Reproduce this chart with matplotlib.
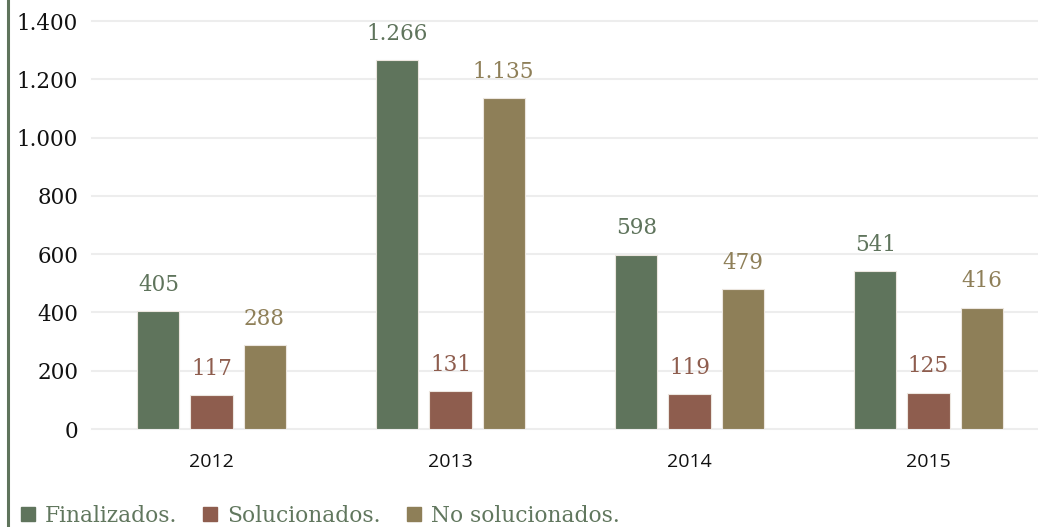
import matplotlib
matplotlib.use("Agg")
import matplotlib.pyplot as plt
from matplotlib.lines import Line2D
import numpy as np

years = ["2012", "2013", "2014", "2015"]
series_names = ["Finalizados.", "Solucionados.", "No solucionados."]
finalizados = [405, 1266, 598, 541]
solucionados = [117, 131, 119, 125]
no_solucionados = [288, 1135, 479, 416]
y_ticks = [0, 200, 400, 600, 800, 1000, 1200, 1400]
y_tick_labels = ["0", "200", "400", "600", "800", "1.000", "1.200", "1.400"]

colors = ["#5f745c", "#8e5d4e", "#8e7f58"]
serif = ["DejaVu Serif"]
sans = ["Open Sans", "DejaVu Sans"]

W, H = 1038, 527
fig = plt.figure(figsize=(W / 100, H / 100), dpi=100)
ax = fig.add_axes([92 / W, 98 / H, 956 / W, 408 / H])

x = np.arange(len(years))
bw = 0.176
step = 0.222
all_series = [finalizados, solucionados, no_solucionados]
for i, (vals, c, name) in enumerate(zip(all_series, colors, series_names)):
    pos = x + (i - 1) * step
    bars = ax.bar(pos, vals, width=bw, color=c, edgecolor="#ece6df", linewidth=0.8,
                  zorder=3, label=name)
    for b, v in zip(bars, vals):
        ax.annotate(f"{v:,}".replace(",", "."),
                    (b.get_x() + b.get_width() / 2, v),
                    xytext=(0, 11), textcoords="offset points",
                    ha="center", va="bottom", color=c, fontsize=15.5,
                    family=serif, annotation_clip=False)

ax.set_xlim(-0.5, len(years) - 0.5)
ax.set_ylim(0, 1400)
ax.set_yticks(y_ticks)
ax.set_yticklabels(y_tick_labels, family=serif, fontsize=15.5, color="#111111")
ax.set_xticks(x)
ax.set_xticklabels(years, family=sans, fontsize=14, color="#111111")
ax.tick_params(axis="both", length=0)
ax.tick_params(axis="y", pad=10)
ax.tick_params(axis="x", pad=17)
ax.grid(axis="y", color="#ededed", linewidth=1.5, zorder=0)
for ln in ax.get_ygridlines():
    ln.set_clip_on(False)
for s in ax.spines.values():
    s.set_visible(False)

# left decorative border
fig.add_artist(Line2D([8 / W, 8 / W], [0, 1], color="#5f745c", linewidth=2.2))

handles = [Line2D([], [], marker="s", linestyle="none", markersize=9.5,
                  markerfacecolor=c, markeredgecolor=c) for c in colors]
leg = fig.legend(handles, series_names, loc="lower left",
                 bbox_to_anchor=(8 / W, -13 / H), ncol=3, frameon=False,
                 prop={"family": serif, "size": 15.7}, labelcolor="#61775e",
                 handlelength=0.6, handletextpad=0.5, columnspacing=1.2,
                 borderaxespad=0.2)

fig.savefig("out.png", dpi=100)
